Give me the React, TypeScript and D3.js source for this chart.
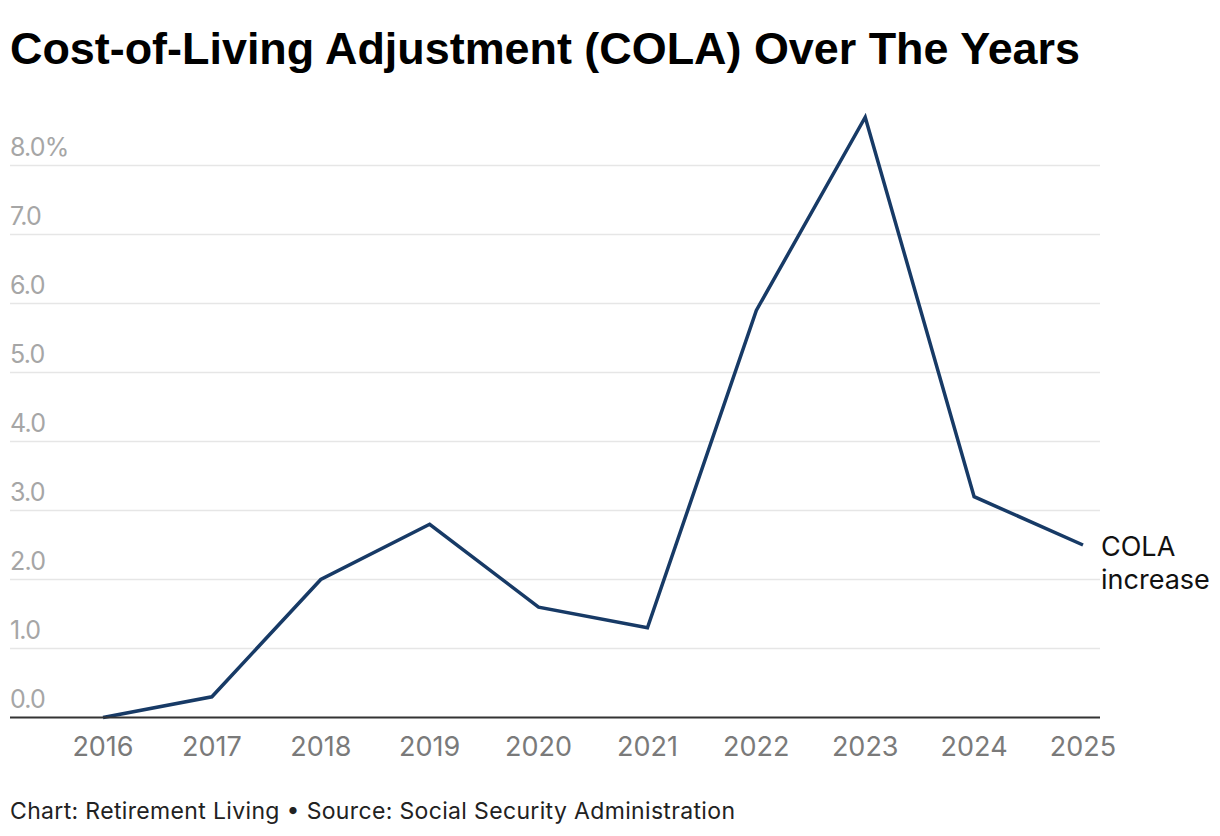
import React from 'react';
import * as d3 from 'd3';

const years = [2016, 2017, 2018, 2019, 2020, 2021, 2022, 2023, 2024, 2025];
const cola = [0.0, 0.3, 2.0, 2.8, 1.6, 1.3, 5.9, 8.7, 3.2, 2.5];
const yTicks = [0, 1, 2, 3, 4, 5, 6, 7, 8];

const title = 'Cost-of-Living Adjustment (COLA) Over The Years';
const footer = 'Chart: Retirement Living \u2022 Source: Social Security Administration';
const seriesLabel = ['COLA', 'increase'];

const W = 1220;
const H = 836;
const font = 'Inter, "Noto Sans", sans-serif';

export default function App() {
  const x = d3.scaleLinear().domain([2016, 2025]).range([103, 1083]);
  const y = d3.scaleLinear().domain([0, 8]).range([717.5, 165.5]);
  const line = d3.line<number>()
    .x((_, i) => x(years[i]))
    .y(d => y(d));

  const last = cola[cola.length - 1];

  return (
    <svg width={W} height={H} style={{ position: 'absolute', left: 0, top: 0, background: '#fff' }}>
      <text x={10} y={64} fontFamily='"Liberation Sans", Arial, sans-serif' fontWeight={700}
        fontSize={44} fill="#000" textLength={1070} lengthAdjust="spacingAndGlyphs">{title}</text>

      {yTicks.filter(t => t > 0).map(t => (
        <line key={'g' + t} x1={10} x2={1100} y1={y(t)} y2={y(t)} stroke="#e6e6e6" strokeWidth={1.5} />
      ))}
      {yTicks.map(t => (
        <text key={'l' + t} x={10} y={y(t) - 10} fontFamily={font} fontSize={25} fill="#a6a6a6"
          letterSpacing={-0.8}>
          {t === 8 ? t.toFixed(1) + '%' : t.toFixed(1)}
        </text>
      ))}

      <path d={line(cola) || ''} fill="none" stroke="#173a66" strokeWidth={3.5} strokeLinejoin="miter" />

      <line x1={10} x2={1100} y1={y(0)} y2={y(0)} stroke="#333" strokeWidth={2} />

      {years.map(yr => (
        <text key={yr} x={x(yr)} y={755.5} textAnchor="middle" fontFamily={font} fontSize={27} fill="#7a7a7a">{yr}</text>
      ))}

      {seriesLabel.map((s, i) => (
        <text key={s} x={1101} y={556 + i * 33} fontFamily={font} fontSize={27} fill="#111">{s}</text>
      ))}

      <text x={10} y={819} fontFamily={font} fontSize={23} fill="#222" textLength={725}
        lengthAdjust="spacing">{footer}</text>
    </svg>
  );
}
